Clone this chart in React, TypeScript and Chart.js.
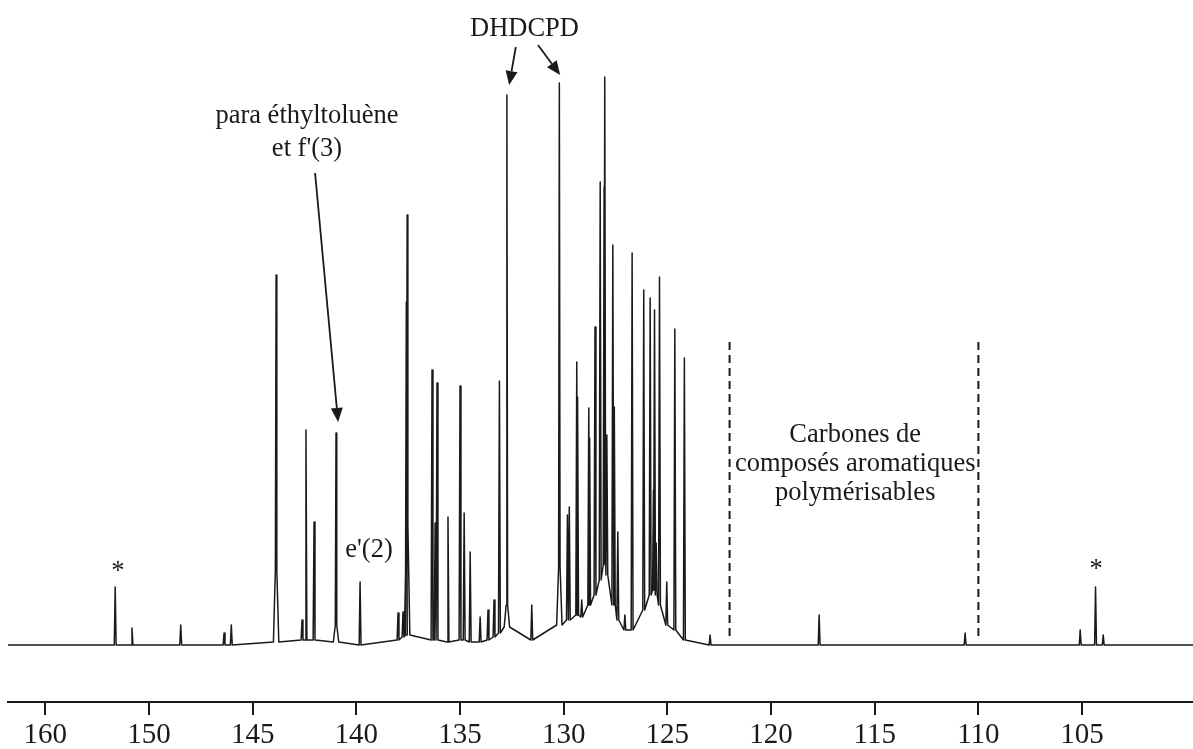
import React, { useEffect, useRef } from "react";
import { Chart, registerables } from "chart.js";

Chart.register(...registerables);

// x axis (ppm) ticks and printed labels (the original axis prints "160" at the 155 mark)
const tickValues = [155, 150, 145, 140, 135, 130, 125, 120, 115, 110, 105];
const tickLabels = ["160", "150", "145", "140", "135", "130", "125", "120", "115", "110", "105"];

// Spectrum peaks: position (ppm), top intensity, local base level, broad-foot level
const peakPpm = [
  151.63, 150.82, 148.47, 146.38, 146.03, 143.87, 142.62, 142.43, 142.04, 140.98,
  139.82, 137.99, 137.75, 137.59, 137.55, 136.35, 136.2, 136.11, 135.58, 135.0,
  134.8, 134.51, 134.03, 133.65, 133.36, 133.1, 132.74, 131.54, 130.21, 129.82,
  129.73, 129.37, 129.33, 129.13, 128.79, 128.75, 128.49, 128.24, 128.05, 128.02,
  127.92, 127.63, 127.56, 127.39, 127.05, 126.7, 126.14, 125.83, 125.67, 125.62,
  125.54, 125.38, 125.03, 124.64, 124.18, 122.94, 117.68, 110.64, 105.09, 104.35,
  103.98,
];
const peakTop = [
  58, 17, 20, 12, 20, 370, 25, 215, 123, 212,
  63, 32, 33, 343, 430, 275, 122, 262, 128, 259,
  132, 93, 28, 35, 45, 264, 550, 40, 562, 130,
  138, 283, 248, 45, 237, 207, 318, 463, 458, 568,
  210, 400, 238, 113, 30, 392, 355, 347, 155, 335,
  102, 368, 63, 316, 287, 10, 30, 12, 15, 58,
  10,
];
const peakBase = [
  0, 0, 0, 0, 0, 3, 5, 5, 5, 3,
  0, 5, 8, 10, 10, 5, 5, 5, 3, 5,
  5, 3, 3, 5, 8, 12, 18, 5, 20, 25,
  25, 30, 30, 28, 40, 40, 50, 65, 80, 85,
  70, 40, 40, 25, 15, 15, 35, 50, 55, 55,
  50, 40, 20, 15, 5, 0, 0, 0, 0, 0,
  0,
];
const peakShoulder = [
  0, 0, 0, 0, 0, 75, 5, 5, 5, 20,
  0, 5, 8, 10, 120, 5, 5, 5, 3, 5,
  5, 3, 3, 5, 8, 12, 40, 5, 78, 25,
  25, 30, 30, 28, 40, 40, 50, 65, 80, 85,
  70, 40, 40, 25, 15, 15, 35, 50, 55, 55,
  50, 40, 20, 15, 5, 0, 0, 0, 0, 0,
  0,
];

// region markers (ppm) for "Carbones de composés aromatiques polymérisables"
const regionBounds = [122, 110];
const regionTopLevel = 303;

const X_MIN = 99.65;
const X_MAX = 156.8;
const Y_MIN = -57;
const Y_MAX = 645;

const SERIF = '"Liberation Serif", "Times New Roman", Times, serif';
const INK = "#1a1a1a";

type Label = { text: string; ppm: number; level: number };
const textLabels: Label[] = [
  { text: "DHDCPD", ppm: 131.89, level: 609 },
  { text: "para éthyltoluène", ppm: 142.38, level: 522 },
  { text: "et f'(3)", ppm: 142.38, level: 489 },
  { text: "e'(2)", ppm: 139.39, level: 88 },
  { text: "*", ppm: 151.5, level: 66 },
  { text: "*", ppm: 104.32, level: 68 },
  { text: "Carbones de", ppm: 115.94, level: 203 },
  { text: "composés aromatiques", ppm: 115.94, level: 174 },
  { text: "polymérisables", ppm: 115.94, level: 145 },
];

type Arrow = { x0: number; y0: number; x1: number; y1: number };
const arrows: Arrow[] = [
  { x0: 132.31, y0: 598, x1: 132.63, y1: 560 },
  { x0: 131.24, y0: 600, x1: 130.17, y1: 570 },
  { x0: 141.99, y0: 472, x1: 140.88, y1: 223 },
];

function buildSpectrum() {
  const pts: { x: number; y: number }[] = [{ x: X_MAX, y: 0 }];
  for (let i = 0; i < peakPpm.length; i++) {
    const p = peakPpm[i];
    const t = peakTop[i];
    const b = peakBase[i];
    const s = peakShoulder[i];
    if (s > b) {
      pts.push(
        { x: p + 0.13, y: b },
        { x: p + 0.035, y: s },
        { x: p, y: t },
        { x: p - 0.035, y: s },
        { x: p - 0.13, y: b }
      );
    } else {
      pts.push({ x: p + 0.045, y: b }, { x: p, y: t }, { x: p - 0.045, y: b });
    }
  }
  pts.push({ x: X_MIN, y: 0 });
  return pts;
}

const annotationPlugin = {
  id: "nmrAnnotations",
  afterDatasetsDraw(chart: any) {
    const { ctx } = chart;
    const xs = chart.scales.x;
    const ys = chart.scales.y;
    ctx.save();

    // dashed region bounds
    ctx.strokeStyle = INK;
    ctx.lineWidth = 2;
    ctx.setLineDash([8, 5]);
    for (const v of regionBounds) {
      const px = xs.getPixelForValue(v);
      ctx.beginPath();
      ctx.moveTo(px, ys.getPixelForValue(regionTopLevel));
      ctx.lineTo(px, ys.getPixelForValue(4));
      ctx.stroke();
    }
    ctx.setLineDash([]);

    // text
    ctx.fillStyle = INK;
    ctx.textAlign = "center";
    ctx.textBaseline = "alphabetic";
    for (const l of textLabels) {
      ctx.font = `26.5px ${SERIF}`;
      ctx.fillText(l.text, xs.getPixelForValue(l.ppm), ys.getPixelForValue(l.level));
    }

    // arrows
    ctx.lineWidth = 1.8;
    for (const a of arrows) {
      const x0 = xs.getPixelForValue(a.x0);
      const y0 = ys.getPixelForValue(a.y0);
      const x1 = xs.getPixelForValue(a.x1);
      const y1 = ys.getPixelForValue(a.y1);
      const ang = Math.atan2(y1 - y0, x1 - x0);
      const hl = 14;
      const hw = 6;
      const bx = x1 - hl * Math.cos(ang);
      const by = y1 - hl * Math.sin(ang);
      ctx.beginPath();
      ctx.moveTo(x0, y0);
      ctx.lineTo(bx, by);
      ctx.stroke();
      ctx.beginPath();
      ctx.moveTo(x1, y1);
      ctx.lineTo(bx + hw * Math.sin(ang), by - hw * Math.cos(ang));
      ctx.lineTo(bx - hw * Math.sin(ang), by + hw * Math.cos(ang));
      ctx.closePath();
      ctx.fill();
    }
    ctx.restore();
  },
};

export default function App() {
  const ref = useRef<HTMLCanvasElement | null>(null);

  useEffect(() => {
    if (!ref.current) return;
    const chart = new Chart(ref.current, {
      type: "line",
      data: {
        datasets: [
          {
            data: buildSpectrum(),
            borderColor: INK,
            borderWidth: 1.5,
            pointRadius: 0,
            tension: 0,
            fill: false,
            borderJoinStyle: "round",
          } as any,
        ],
      },
      options: {
        animation: false,
        responsive: false,
        events: [],
        layout: { padding: { left: 8, right: 0, top: 0, bottom: 0 } },
        plugins: {
          legend: { display: false },
          tooltip: { enabled: false },
          title: { display: false },
        },
        scales: {
          x: {
            type: "linear",
            reverse: true,
            min: X_MIN,
            max: X_MAX,
            afterBuildTicks: (s: any) => {
              s.ticks = tickValues.map((v) => ({ value: v }));
            },
            afterFit: (s: any) => {
              s.height = 47;
            },
            ticks: {
              callback: (v: any) => {
                const i = tickValues.indexOf(Number(v));
                return i >= 0 ? tickLabels[i] : "";
              },
              font: { family: SERIF, size: 29, lineHeight: 0.93 },
              color: INK,
              maxRotation: 0,
              minRotation: 0,
              autoSkip: false,
              padding: 7,
            },
            grid: {
              display: true,
              drawOnChartArea: false,
              drawTicks: true,
              tickLength: 13,
              color: INK,
              lineWidth: 2,
            },
            border: { display: true, color: INK, width: 2 },
          },
          y: { display: false, min: Y_MIN, max: Y_MAX },
        },
      } as any,
      plugins: [annotationPlugin],
    });
    return () => chart.destroy();
  }, []);

  return (
    <div
      style={{
        position: "fixed",
        left: 0,
        top: 0,
        width: 1193,
        height: 749,
        background: "#ffffff",
      }}
    >
      <canvas ref={ref} width={1193} height={749} style={{ display: "block" }} />
    </div>
  );
}
